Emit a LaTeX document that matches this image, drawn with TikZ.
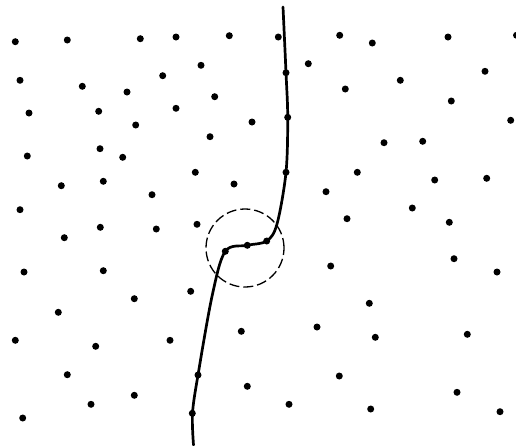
\documentclass[tikz,border=0pt]{standalone}
\begin{document}
\begin{tikzpicture}[x=1pt,y=-1pt,
  dot/.style={circle,fill=black,inner sep=0pt,minimum size=7pt},
  pathline/.style={line width=2.7pt,line cap=round},
  lens/.style={line width=1.3pt,dash pattern=on 10pt off 4pt}]
\useasboundingbox (0,0) rectangle (516,445);
% free dots
\foreach \x/\y [count=\i] in {15.3/41.7,67.3/40,140.3/38.7,176/37,229.3/35.7,201/65.3,20/80.3,82.3/86.3,127/92,162.7/75.7,214.7/96.7,29/113,98.7/111.3,176/108.3,135.7/125,252/122,210/136.7,27.3/156,100/148.7,122.7/157.3,195.3/172.3,234/184,61.3/185.7,103.3/181.3,152/194.7,20/209.7,197/224.3,278.3/37,339.7/35.3,372.3/43,448/37,516.5/35.3,308.3/63.7,345.3/89,400.3/80.3,485/71.3,451.3/101,510.7/120.3,384/142.7,422.7/141.3,357.3/172.3,434.7/180,486.7/178.3,326/191.7,412.3/208,347/218.7,449.3/222.3,100.3/227.3,64.3/237.7,156.3/229,24/272,103.3/270.7,190.7/291.3,134.3/298.7,58.3/312.3,15.3/340.3,95.7/346.3,170/340.3,241.3/331.3,67.3/374.7,247.3/386.3,134.3/395.3,91/404.3,22.7/418,454/258.7,330.7/266,497/272,369.3/303.3,317/327,375.3/337.3,467.3/334.3,339.3/376,457/392.3,289/404.3,370.7/409,500/411.7}
  \node[dot] (d\i) at (\x,\y) {};
% curve
\coordinate (ctop) at (283,7);
\coordinate (cbot) at (193.5,445);
\node[dot] (p1) at (286,72.7) {};
\node[dot] (p2) at (287.7,117.3) {};
\node[dot] (p3) at (286,172.3) {};
\coordinate (k1) at (277,224);
\node[dot] (p4) at (266.7,241) {};
\node[dot] (p5) at (247.3,245.3) {};
\node[dot] (p6) at (225.3,251.3) {};
\coordinate (k2) at (212.3,295);
\node[dot] (p7) at (198,375) {};
\node[dot] (p8) at (192.3,413.3) {};
\draw[pathline] plot[smooth,tension=0.55] coordinates {(283,7) (286,72.7) (287.7,117.3) (286,172.3) (277,224) (266.7,241) (247.3,245.3) (225.3,251.3) (212.3,295) (198,375) (192.5,413.3) (193.5,445)};
% dashed circle
\node[draw,lens,circle,minimum size=78pt,inner sep=0pt] (lensc) at (245,248) {};
\end{tikzpicture}
\end{document}
